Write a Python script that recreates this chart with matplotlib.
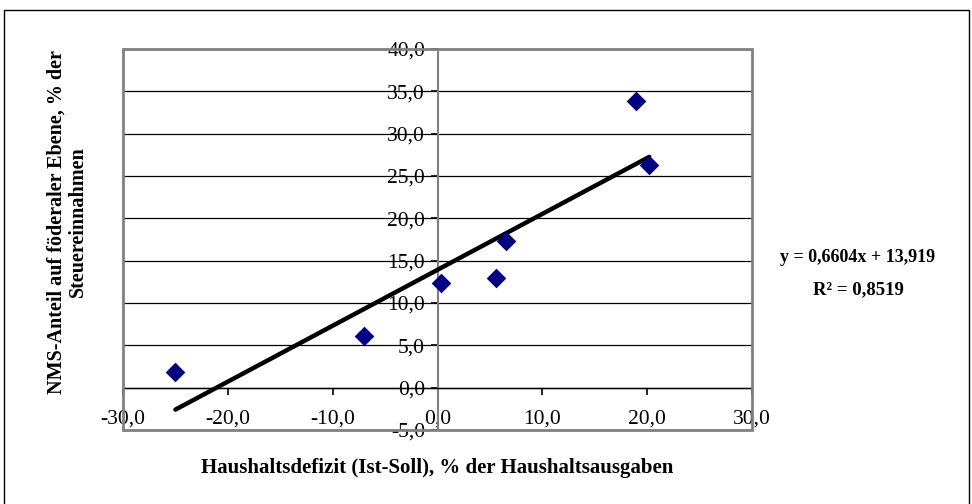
import numpy as np
import matplotlib
matplotlib.use("Agg")
import matplotlib.pyplot as plt
from matplotlib.patches import Rectangle

# ── data ──────────────────────────────────────────────────────────
deficit = [-25.0, -7.0, 0.3, 5.6, 6.5, 18.9, 20.2]
nms_share = [1.8, 6.1, 12.4, 12.9, 17.3, 33.8, 26.3]
slope, intercept, r2 = 0.6604, 13.919, 0.8519

x_ticks = [-30, -20, -10, 0, 10, 20, 30]
y_ticks = [-5, 0, 5, 10, 15, 20, 25, 30, 35, 40]

plt.rcParams["font.family"] = ["Liberation Serif", "DejaVu Serif"]

fig = plt.figure(figsize=(9.72, 5.04), dpi=100)
ax = fig.add_axes([123 / 972, 1 - 430 / 504, 629 / 972, 381 / 504])

# outer chart frame
fig.patches.append(Rectangle((4 / 972, -0.02), 965 / 972, 1 - 10 / 504 + 0.02,
                             transform=fig.transFigure, fill=False,
                             edgecolor="black", linewidth=1.0))

ax.set_xlim(-30, 30)
ax.set_ylim(-5, 40)
ax.set_xticks(x_ticks)
ax.set_yticks(y_ticks)
fmt = lambda v: f"{v:.1f}".replace(".", ",")
ax.set_xticklabels([fmt(v) for v in x_ticks])
ax.set_yticklabels([fmt(v) for v in y_ticks])

# Excel-style axes crossing at the origin
for side in ["top", "right"]:
    ax.spines[side].set_visible(False)
ax.spines["left"].set_position(("data", 0))
ax.spines["bottom"].set_position(("data", 0))
ax.spines["left"].set_color("#808080")
ax.spines["bottom"].set_color("black")
ax.spines["left"].set_linewidth(1.5)
ax.spines["bottom"].set_linewidth(1.0)
ax.add_patch(Rectangle((0, 0), 1, 1, transform=ax.transAxes, fill=False,
                       edgecolor="#808080", linewidth=2.0, zorder=5,
                       clip_on=False))

ax.yaxis.grid(True, color="black", linewidth=0.9)
ax.set_axisbelow(True)
ax.tick_params(axis="both", direction="out", length=5, width=1.2,
               color="black", labelsize=15.5)
ax.tick_params(axis="y", pad=4)
ax.tick_params(axis="x", pad=11)

ax.scatter(deficit, nms_share, marker="D", s=100, color="#000080",
           zorder=4, linewidths=0)
xs = np.array([min(deficit), max(deficit)])
ax.plot(xs, slope * xs + intercept, color="black", linewidth=3.2,
        solid_capstyle="round", zorder=3)

fig.text(437 / 972, 1 - 468 / 504,
         "Haushaltsdefizit (Ist-Soll), % der Haushaltsausgaben",
         ha="center", va="center", fontsize=15, fontweight="bold")
fig.text(67 / 972, 1 - 222 / 504,
         "NMS-Anteil auf föderaler Ebene, % der\nSteuereinnahmen",
         ha="center", va="center", rotation=90, fontsize=14.5,
         fontweight="bold", linespacing=1.1)
fig.text(858 / 972, 1 - 258 / 504,
         "y = " + f"{slope:.4f}".replace(".", ",") + "x + "
         + f"{intercept:.3f}".replace(".", ","),
         ha="center", va="center", fontsize=13, fontweight="bold")
fig.text(858 / 972, 1 - 290 / 504,
         "R² = " + f"{r2:.4f}".replace(".", ","),
         ha="center", va="center", fontsize=13.5, fontweight="bold")

fig.savefig("out.png", dpi=100)
plt.close(fig)
